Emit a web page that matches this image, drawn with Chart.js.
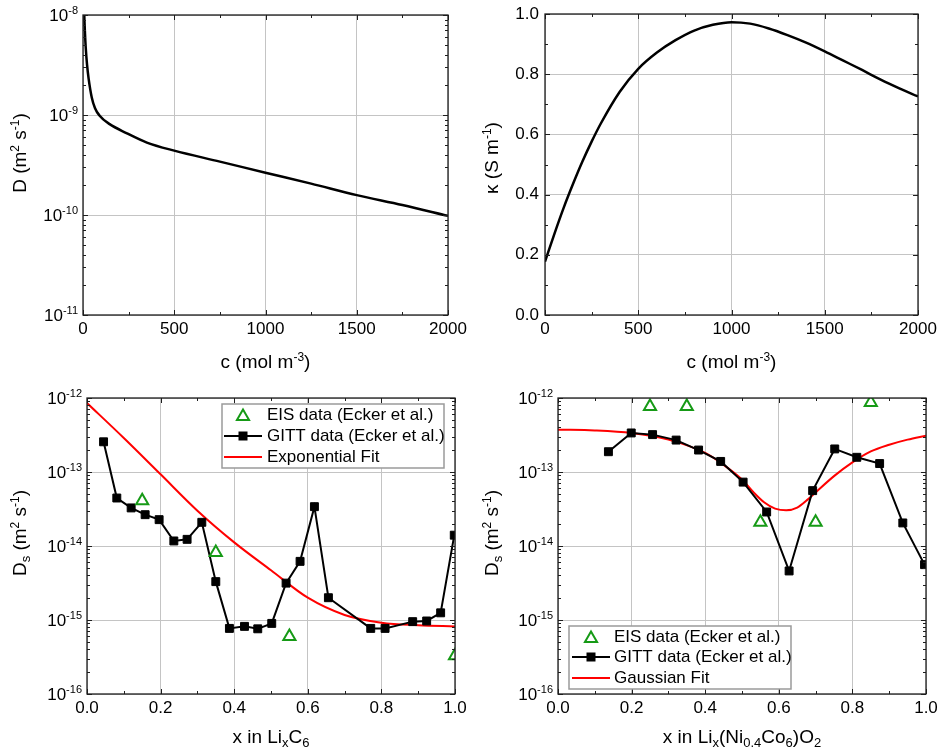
<!DOCTYPE html>
<html>
<head>
<meta charset="utf-8">
<script src="https://cdn.jsdelivr.net/npm/chart.js@4.4.1/dist/chart.umd.min.js"></script>
<style>
html, body { margin: 0; padding: 0; background: #fff; }
#wrap { position: relative; width: 944px; height: 756px; }
#wrap canvas { position: absolute; }
</style>
</head>
<body>
<div id="wrap">
    <canvas id="c1" width="472" height="378" style="left:0;top:0"></canvas>
    <canvas id="c2" width="472" height="378" style="left:472px;top:0"></canvas>
    <canvas id="c3" width="472" height="378" style="left:0;top:378px"></canvas>
    <canvas id="c4" width="472" height="378" style="left:472px;top:378px"></canvas>
</div>
<script>
// electrolyte diffusivity D(c)
const cD = [3, 6, 11, 15, 22, 31, 48, 66, 90, 146, 238, 350, 500, 750, 1000, 1250, 1500, 1750, 2000];
const dVals = [2.2e-8, 1.15e-8, 6.5e-9, 4.7e-9, 3.2e-9, 2.3e-9, 1.5e-9, 1.17e-9, 9.9e-10, 8.1e-10, 6.6e-10,
    5.3e-10, 4.4e-10, 3.42e-10, 2.65e-10, 2.06e-10, 1.58e-10, 1.26e-10, 9.8e-11];

// electrolyte conductivity kappa(c)
const cK = [0, 50, 100, 150, 200, 250, 300, 400, 500, 600, 700, 800, 900, 1000, 1100, 1200, 1300, 1400,
    1500, 1600, 1700, 1800, 1900, 2000];
const kVals = [0.177, 0.269, 0.356, 0.435, 0.509, 0.576, 0.637, 0.741, 0.818, 0.872, 0.913, 0.945, 0.964, 0.973,
    0.968, 0.952, 0.93, 0.905, 0.876, 0.845, 0.814, 0.782, 0.753, 0.726];

// negative electrode (LixC6)
const xGittNeg = [0.045, 0.081, 0.120, 0.158, 0.196, 0.236, 0.272, 0.312, 0.350, 0.387, 0.428, 0.464, 0.502,
    0.541, 0.579, 0.618, 0.656, 0.771, 0.810, 0.885, 0.923, 0.961, 0.998];
const dGittNeg = [2.56e-13, 4.45e-14, 3.27e-14, 2.65e-14, 2.27e-14, 1.17e-14, 1.23e-14, 2.09e-14, 3.3e-15,
    7.7e-16, 8.2e-16, 7.6e-16, 9.0e-16, 3.15e-15, 6.2e-15, 3.4e-14, 2.0e-15, 7.7e-16, 7.7e-16, 9.5e-16,
    9.7e-16, 1.25e-15, 1.4e-14];
const xEisNeg = [0.15, 0.35, 0.55, 1.0];
const dEisNeg = [4.1e-14, 8.2e-15, 6.0e-16, 3.3e-16];
const xFitNeg = [0, 0.1, 0.2, 0.3, 0.4, 0.5, 0.6, 0.7, 0.8, 0.9, 1.0];
const dFitNeg = [8.55e-13, 2.88e-13, 9.3e-14, 3.0e-14, 1.12e-14, 4.7e-15, 2.0e-15, 1.17e-15, 9.2e-16, 8.5e-16, 8.2e-16];

// positive electrode (Lix(Ni0.4Co6)O2)
const xGittPos = [0.137, 0.199, 0.257, 0.321, 0.382, 0.442, 0.503, 0.567, 0.628, 0.692, 0.752, 0.812, 0.874, 0.937, 0.996];
const dGittPos = [1.88e-13, 3.37e-13, 3.2e-13, 2.7e-13, 1.98e-13, 1.39e-13, 7.3e-14, 2.88e-14, 4.6e-15,
    5.6e-14, 2.05e-13, 1.58e-13, 1.3e-13, 2.05e-14, 5.6e-15];
const xEisPos = [0.25, 0.35, 0.55, 0.70, 0.85];
const dEisPos = [7.7e-13, 7.7e-13, 2.1e-14, 2.1e-14, 8.7e-13];
const xFitPos = [0, 0.1, 0.2, 0.3, 0.4, 0.45, 0.5, 0.53, 0.56, 0.59, 0.62, 0.65, 0.68, 0.7, 0.75, 0.8, 0.85, 0.9, 0.95, 1.0];
const dFitPos = [3.73e-13, 3.65e-13, 3.37e-13, 2.74e-13, 1.81e-13, 1.25e-13, 7.9e-14, 5.4e-14, 3.9e-14, 3.2e-14,
    3.03e-14, 3.3e-14, 4.3e-14, 5.3e-14, 8.8e-14, 1.35e-13, 1.9e-13, 2.34e-13, 2.74e-13, 3.1e-13];

const FONT = '"Liberation Sans", Arial, sans-serif';
const GRID = "#c4c4c4";
const AXIS = "#1e1e1e";
const GREEN = "#169a16";
const RED = "#ff0000";

const pts = (xs, ys) => xs.map((x, i) => ({ x: x, y: ys[i] }));
const isDecade = v => Math.abs(Math.log10(v) - Math.round(Math.log10(v))) < 1e-6;

// rich text: [text, 0 normal | 1 superscript | -1 subscript]
function partSize(p, size) {
    if (p[1] === 1) return Math.round(size * 0.65);
    if (p[1] === -1) return Math.round(size * 0.68);
    return size;
}
function richWidth(ctx, parts, size) {
    let w = 0;
    parts.forEach(p => {
        ctx.font = partSize(p, size) + "px " + FONT;
        w += ctx.measureText(p[0]).width;
    });
    return w;
}
function drawRich(ctx, parts, x, y, size) {
    parts.forEach(p => {
        ctx.font = partSize(p, size) + "px " + FONT;
        const dy = p[1] === 1 ? -size * 0.3 : p[1] === -1 ? size * 0.3 : 0;
        ctx.fillText(p[0], x, y + dy);
        x += ctx.measureText(p[0]).width;
    });
}

function line(ctx, x1, y1, x2, y2) {
    ctx.beginPath();
    ctx.moveTo(x1, y1);
    ctx.lineTo(x2, y2);
    ctx.stroke();
}

function tickList(scale) {
    const out = [];
    if (scale.type === "logarithmic") {
        const lo = Math.round(Math.log10(scale.min)), hi = Math.round(Math.log10(scale.max));
        for (let e = lo; e <= hi; e++) {
            out.push({ v: Math.pow(10, e), major: true });
            if (e < hi) for (let m = 2; m <= 9; m++) out.push({ v: m * Math.pow(10, e), major: false });
        }
    } else {
        const t = scale.ticks.map(t => t.value);
        t.forEach((v, i) => {
            out.push({ v: v, major: true });
            if (i < t.length - 1) out.push({ v: (v + t[i + 1]) / 2, major: false });
        });
    }
    return out;
}

const panels = {
    c1: {
        xFmt: v => String(Math.round(v)),
        xTitle: [["c (mol m", 0], ["-3", 1], [")", 0]], xTitleDy: 48,
        yTitle: [["D (m", 0], ["2", 1], [" s", 0], ["-1", 1], [")", 0]], yTitleY: 153
    },
    c2: {
        xFmt: v => String(Math.round(v)),
        yFmt: v => v.toFixed(1),
        xTitle: [["c (mol m", 0], ["-3", 1], [")", 0]], xTitleDy: 48,
        yTitle: [["\u03ba (S m", 0], ["-1", 1], [")", 0]], yTitleY: 158
    },
    c3: {
        xFmt: v => v.toFixed(1),
        xTitle: [["x in Li", 0], ["x", -1], ["C", 0], ["6", -1]], xTitleDy: 44,
        yTitle: [["D", 0], ["s", -1], [" (m", 0], ["2", 1], [" s", 0], ["-1", 1], [")", 0]], yTitleY: 155,
        legend: { box: [222, 26, 222, 64], rows: [37, 58, 79], sample: [224, 262], textX: 267,
            items: [["tri", "EIS data (Ecker et al.)"], ["sq", "GITT data (Ecker et al.)"], ["line", "Exponential Fit"]] }
    },
    c4: {
        xFmt: v => v.toFixed(1),
        xTitle: [["x in Li", 0], ["x", -1], ["(Ni", 0], ["0.4", -1], ["Co", 0], ["6", -1], [")O", 0], ["2", -1]], xTitleDy: 44,
        yTitle: [["D", 0], ["s", -1], [" (m", 0], ["2", 1], [" s", 0], ["-1", 1], [")", 0]], yTitleY: 155,
        legend: { box: [97, 248, 222, 63], rows: [259, 279, 300], sample: [100, 138], textX: 142,
            items: [["tri", "EIS data (Ecker et al.)"], ["sq", "GITT data (Ecker et al.)"], ["line", "Gaussian Fit"]] }
    }
};

function triangle(ctx, x, y, r) {
    ctx.beginPath();
    for (let k = 0; k < 3; k++) {
        const a = k * 2 * Math.PI / 3;
        const px = x + Math.sin(a) * r, py = y - Math.cos(a) * r;
        if (k === 0) ctx.moveTo(px, py); else ctx.lineTo(px, py);
    }
    ctx.closePath();
    ctx.stroke();
}

const axisDeco = {
    id: "axisDeco",
    afterDraw(chart) {
        const cfg = panels[chart.canvas.id];
        const ctx = chart.ctx, a = chart.chartArea;
        const xs = chart.scales.x, ys = chart.scales.y;
        ctx.save();

        // inward tick marks on all four sides
        ctx.strokeStyle = AXIS;
        ctx.lineWidth = 1;
        tickList(xs).forEach(t => {
            const px = Math.round(xs.getPixelForValue(t.v)) + 0.5;
            const L = t.major ? 5 : 3;
            line(ctx, px, a.bottom, px, a.bottom - L);
            line(ctx, px, a.top, px, a.top + L);
        });
        tickList(ys).forEach(t => {
            const py = Math.round(ys.getPixelForValue(t.v)) + 0.5;
            const L = t.major ? 5 : 3;
            line(ctx, a.left, py, a.left + L, py);
            line(ctx, a.right, py, a.right - L, py);
        });
        ctx.lineWidth = 1.3;
        ctx.strokeRect(a.left, a.top, a.right - a.left, a.bottom - a.top);

        // tick labels
        ctx.fillStyle = "#000";
        ctx.textBaseline = "middle";
        ctx.font = "17px " + FONT;
        ctx.textAlign = "center";
        xs.ticks.forEach(t => {
            ctx.fillText(cfg.xFmt(t.value), xs.getPixelForValue(t.value), a.bottom + 14);
        });
        if (ys.type === "logarithmic") {
            ctx.textAlign = "left";
            ys.ticks.filter(t => isDecade(t.value)).forEach(t => {
                const parts = [["10", 0], [String(Math.round(Math.log10(t.value))), 1]];
                const w = richWidth(ctx, parts, 17);
                drawRich(ctx, parts, a.left - 5 - w, ys.getPixelForValue(t.value) + 1, 17);
            });
        } else {
            ctx.textAlign = "right";
            ys.ticks.forEach(t => {
                ctx.fillText(cfg.yFmt(t.value), a.left - 6, ys.getPixelForValue(t.value));
            });
        }

        // axis titles
        ctx.textAlign = "left";
        const xw = richWidth(ctx, cfg.xTitle, 19);
        drawRich(ctx, cfg.xTitle, (a.left + a.right) / 2 - xw / 2, a.bottom + cfg.xTitleDy, 19);
        const yw = richWidth(ctx, cfg.yTitle, 19);
        ctx.save();
        ctx.translate(21, cfg.yTitleY);
        ctx.rotate(-Math.PI / 2);
        drawRich(ctx, cfg.yTitle, -yw / 2, 0, 19);
        ctx.restore();

        // legend box inside the plot
        const lg = cfg.legend;
        if (lg) {
            ctx.fillStyle = "#fff";
            ctx.fillRect(lg.box[0], lg.box[1], lg.box[2], lg.box[3]);
            ctx.strokeStyle = "#9a9a9a";
            ctx.lineWidth = 1.5;
            ctx.strokeRect(lg.box[0], lg.box[1], lg.box[2], lg.box[3]);
            const cx = (lg.sample[0] + lg.sample[1]) / 2;
            lg.items.forEach((it, i) => {
                const y = lg.rows[i];
                if (it[0] === "tri") {
                    ctx.strokeStyle = GREEN;
                    ctx.lineWidth = 2;
                    triangle(ctx, cx, y + 1.5, 7);
                } else if (it[0] === "sq") {
                    ctx.strokeStyle = "#000";
                    ctx.lineWidth = 2;
                    line(ctx, lg.sample[0], y, lg.sample[1], y);
                    ctx.fillStyle = "#000";
                    ctx.fillRect(cx - 4.5, y - 4.5, 9, 9);
                } else {
                    ctx.strokeStyle = RED;
                    ctx.lineWidth = 2;
                    line(ctx, lg.sample[0], y, lg.sample[1], y);
                }
                ctx.fillStyle = "#000";
                ctx.font = "17px " + FONT;
                ctx.textAlign = "left";
                ctx.fillText(it[1], lg.textX, y);
            });
        }
        ctx.restore();
    }
};

function xScale(min, max, step) {
    return {
        type: "linear", min: min, max: max,
        ticks: { stepSize: step, display: false },
        grid: { color: GRID, drawTicks: false, lineWidth: 1 },
        border: { display: false }
    };
}
function yLog(min, max) {
    return {
        type: "logarithmic", min: min, max: max,
        ticks: { display: false },
        grid: {
            color: c => (c.tick && isDecade(c.tick.value)) ? GRID : "rgba(0,0,0,0)",
            drawTicks: false, lineWidth: 1
        },
        border: { display: false }
    };
}

function makeChart(id, datasets, scales, padding) {
    return new Chart(document.getElementById(id), {
        type: "scatter",
        data: { datasets: datasets },
        options: {
            responsive: false,
            animation: false,
            events: [],
            layout: { padding: padding },
            plugins: { legend: { display: false }, tooltip: { enabled: false } },
            scales: scales
        },
        plugins: [axisDeco]
    });
}

const curve = (data, color, width) => ({
    data: data, showLine: true, borderColor: color, borderWidth: width,
    pointRadius: 0, cubicInterpolationMode: "monotone", clip: 0
});
const gitt = data => ({
    data: data, showLine: true, borderColor: "#000", borderWidth: 2, tension: 0,
    pointStyle: "rect", pointRadius: 5.6, pointBackgroundColor: "#000", pointBorderColor: "#000",
    pointBorderWidth: 1, clip: 0
});
const eis = data => ({
    data: data, showLine: false, pointStyle: "triangle", pointRadius: 7,
    pointBackgroundColor: "rgba(0,0,0,0)", pointBorderColor: GREEN, pointBorderWidth: 2, clip: 0
});

makeChart("c1", [curve(pts(cD, dVals), "#000", 2.5)],
    { x: xScale(0, 2000, 500), y: yLog(1e-11, 1e-8) },
    { left: 83, top: 15, right: 24, bottom: 63 });

makeChart("c2", [curve(pts(cK, kVals), "#000", 2.5)],
    {
        x: xScale(0, 2000, 500),
        y: { type: "linear", min: 0, max: 1, ticks: { stepSize: 0.2, display: false },
            grid: { color: GRID, drawTicks: false }, border: { display: false } }
    },
    { left: 73, top: 14, right: 26, bottom: 63 });

makeChart("c3", [eis(pts(xEisNeg, dEisNeg)), gitt(pts(xGittNeg, dGittNeg)), curve(pts(xFitNeg, dFitNeg), RED, 2)],
    { x: xScale(0, 1, 0.2), y: yLog(1e-16, 1e-12) },
    { left: 87, top: 20, right: 17, bottom: 62 });

makeChart("c4", [eis(pts(xEisPos, dEisPos)), gitt(pts(xGittPos, dGittPos)), curve(pts(xFitPos, dFitPos), RED, 2)],
    { x: xScale(0, 1, 0.2), y: yLog(1e-16, 1e-12) },
    { left: 86, top: 20, right: 18, bottom: 62 });
</script>
</body>
</html>
